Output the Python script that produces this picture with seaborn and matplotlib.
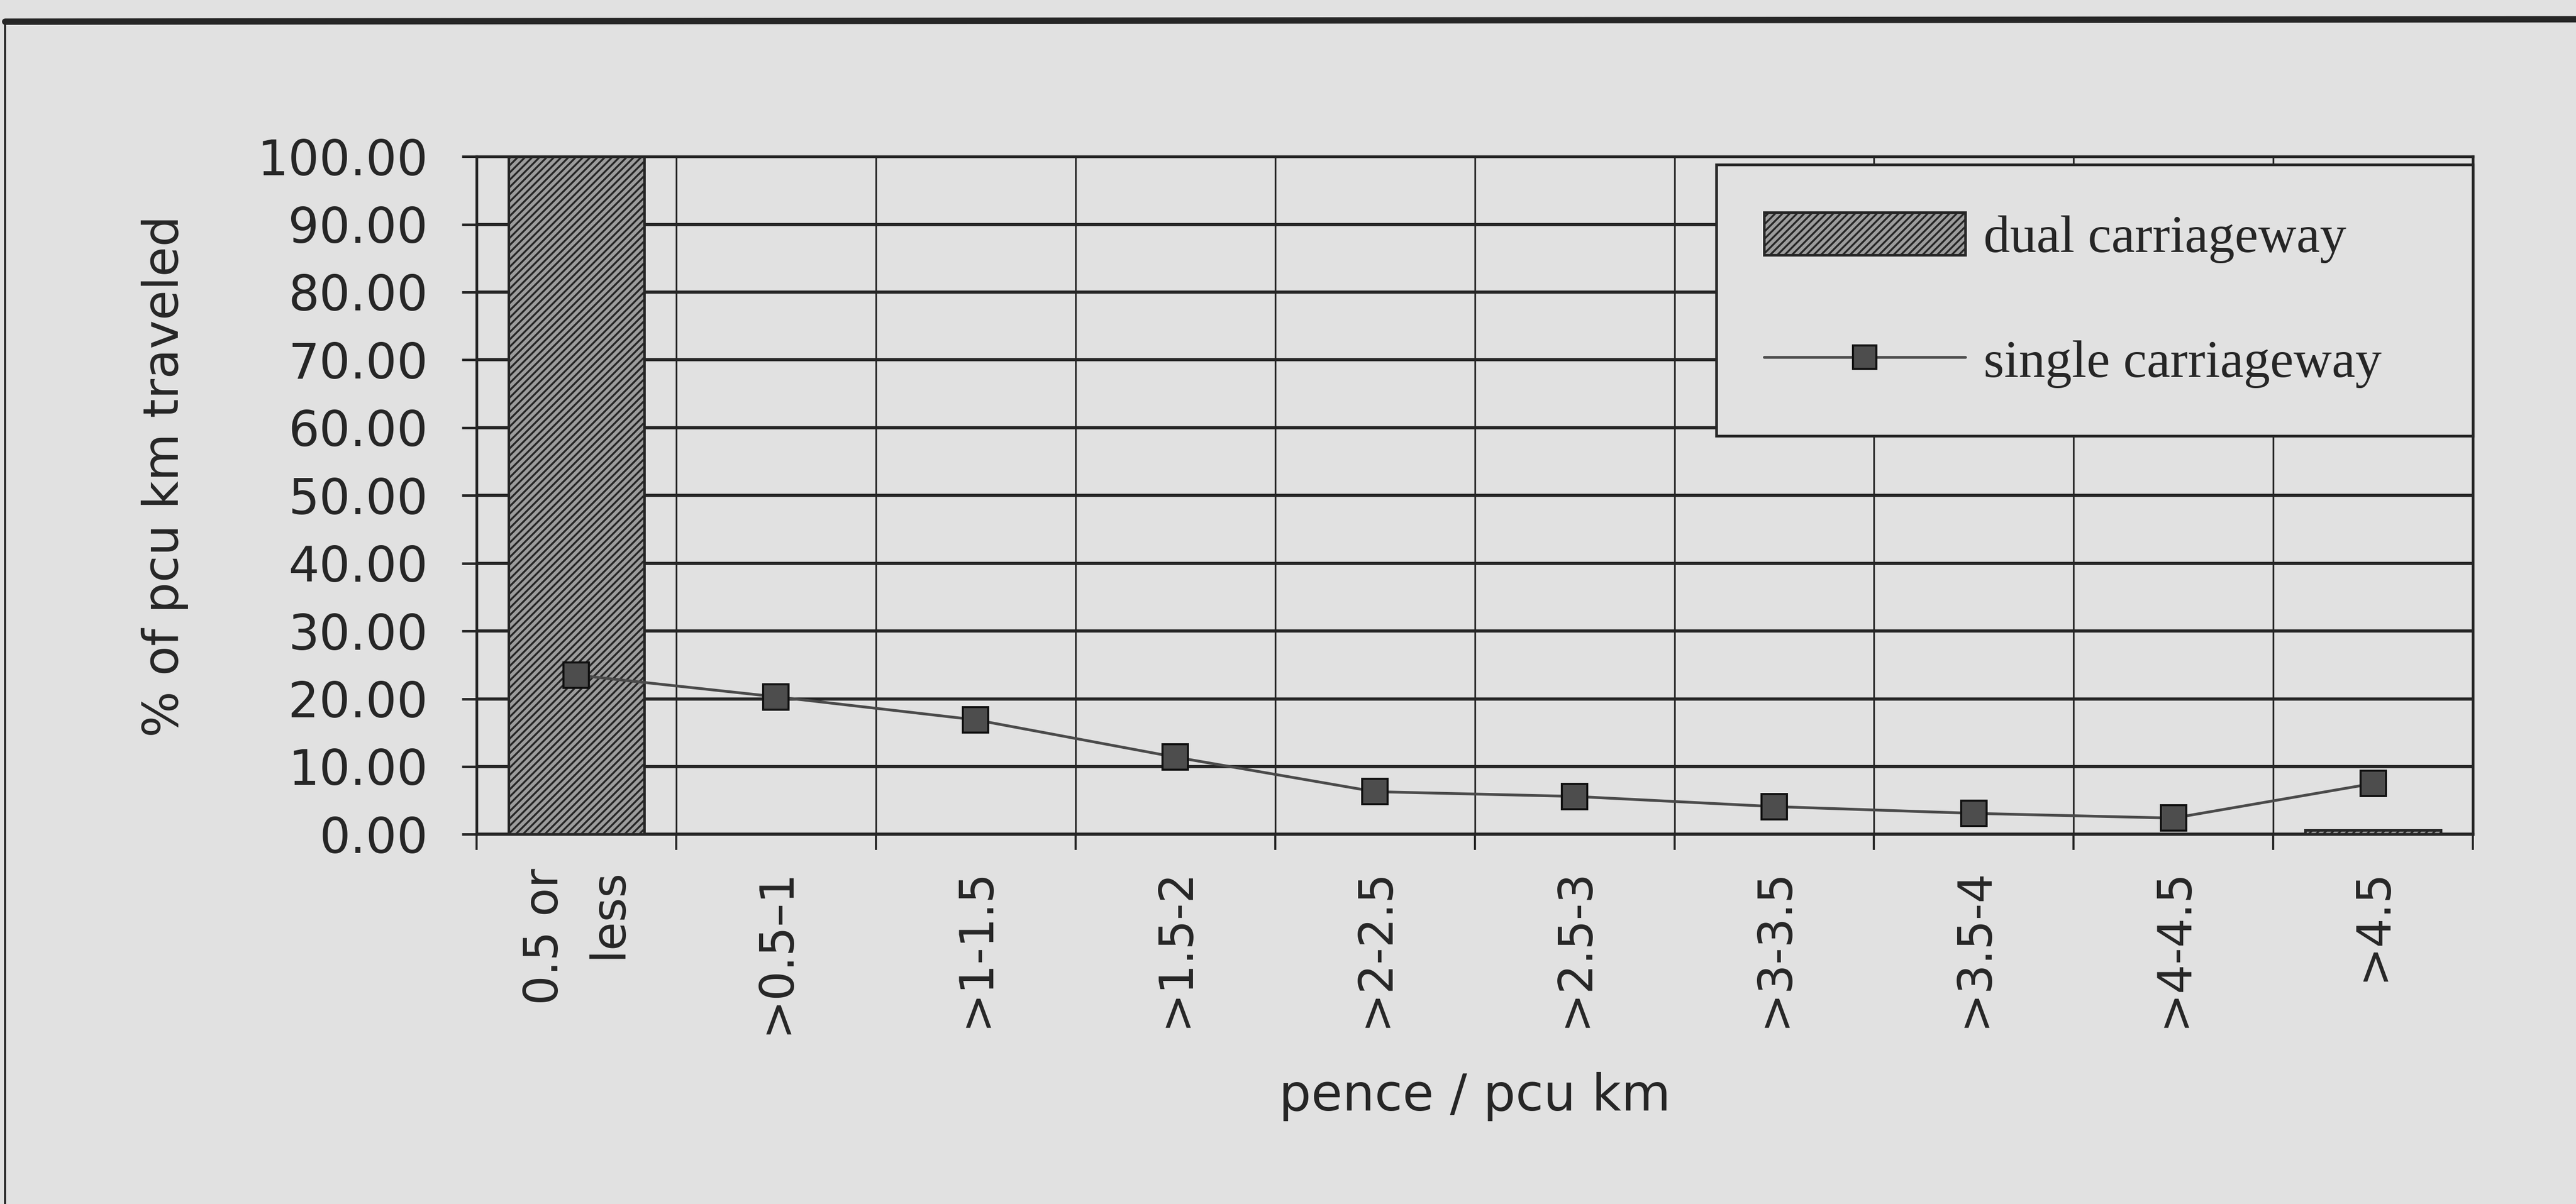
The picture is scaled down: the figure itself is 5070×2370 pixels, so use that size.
import matplotlib
matplotlib.use('Agg')
import matplotlib.pyplot as plt
import seaborn as sns
from matplotlib.patches import Patch
from matplotlib.lines import Line2D
from matplotlib.ticker import FormatStrFormatter

# categories (pence / pcu km bands) and % of pcu km travelled
categories = ['0.5 or\nless', '>0.5\u20131', '>1-1.5', '>1.5-2', '>2-2.5',
              '>2.5-3', '>3-3.5', '>3.5-4', '>4-4.5', '>4.5']
dual = [100.0, 0, 0, 0, 0, 0, 0, 0, 0, 0.6]
single = [23.5, 20.3, 16.9, 11.4, 6.3, 5.6, 4.1, 3.1, 2.4, 7.5]
yticks = list(range(0, 101, 10))

bg = '#e1e1e1'
ink = '#262626'
bar_fc = '#9c9c9c'
marker_fc = '#4d4d4d'
bar_hatch = '///////'

sns.set_style('white')
plt.rcParams['font.family'] = ['DejaVu Sans']
plt.rcParams['hatch.linewidth'] = 0.9
plt.rcParams['text.color'] = ink

fig = plt.figure(figsize=(16.9, 7.9), dpi=300, facecolor=bg)
ax = fig.add_axes([0.185, 0.307, 0.775, 0.563])
ax.set_facecolor(bg)

sns.barplot(x=categories, y=dual, color=bar_fc, saturation=1, width=0.68,
            edgecolor=ink, linewidth=1.2, hatch=bar_hatch, ax=ax)
sns.pointplot(x=categories, y=single, color='#4a4a4a', markers='s', linestyles='-',
              errorbar=None, markersize=12, linewidth=1.3,
              markerfacecolor=marker_fc, markeredgecolor='#111111', ax=ax)

ax.set_xlim(-0.5, 9.5)
ax.set_ylim(0, 100)
ax.set_yticks(yticks)
ax.yaxis.set_major_formatter(FormatStrFormatter('%.2f'))
ax.set_xticks(range(len(categories)))
ax.set_xticklabels(categories, rotation=90, va='top', ha='center')
first = ax.get_xticklabels()[0]
first.set_multialignment('right')
first.set_linespacing(1.5)
ax.set_xticks([i - 0.5 for i in range(len(categories) + 1)], minor=True)

ax.tick_params(axis='x', which='major', bottom=True, length=0, pad=16, labelsize=22, labelcolor=ink)
ax.tick_params(axis='x', which='minor', bottom=True, length=7.5, width=1, color=ink, direction='out')
ax.tick_params(axis='y', left=True, length=7, width=1.2, color=ink, direction='out', pad=16,
               labelsize=23, labelcolor=ink)
ax.grid(axis='y', which='major', color=ink, lw=1.5)
ax.grid(axis='x', which='minor', color=ink, lw=0.8)
ax.set_axisbelow(True)
for s in ax.spines.values():
    s.set_color(ink)
    s.set_linewidth(1.3)

ax.set_ylabel('% of pcu km traveled', fontsize=23, color=ink)
ax.yaxis.set_label_coords(-0.156, 0.528)
ax.yaxis.label.set_va('center')
ax.set_xlabel('pence / pcu km', fontsize=24, color=ink)
ax.xaxis.set_label_coords(0.5, -0.387)
ax.xaxis.label.set_va('center')

handles = [Patch(facecolor=bar_fc, edgecolor=ink, hatch=bar_hatch, lw=1.2),
           Line2D([], [], color='#4a4a4a', lw=1.3, marker='s', markersize=11,
                  markerfacecolor=marker_fc, markeredgecolor='#111111')]
leg = ax.legend(handles, ['dual carriageway', 'single carriageway'], loc='upper left',
                bbox_to_anchor=(0.621, 0.584, 0.379, 0.404), mode='expand', borderaxespad=0,
                prop={'family': 'Liberation Serif', 'size': 25}, handlelength=3.8,
                handleheight=0.87, handletextpad=0.35, labelspacing=1.4, borderpad=0.9,
                frameon=True, fancybox=False, facecolor=bg, edgecolor=ink, framealpha=1)
leg.get_frame().set_linewidth(1.3)

# scanned page frame
fig.add_artist(Line2D([0.002, 1.0], [0.982, 0.984], transform=fig.transFigure, color=ink, lw=3))
fig.add_artist(Line2D([0.002, 0.002], [0.0, 0.982], transform=fig.transFigure, color=ink, lw=1))

fig.savefig('out.png', dpi=300, facecolor=bg)
